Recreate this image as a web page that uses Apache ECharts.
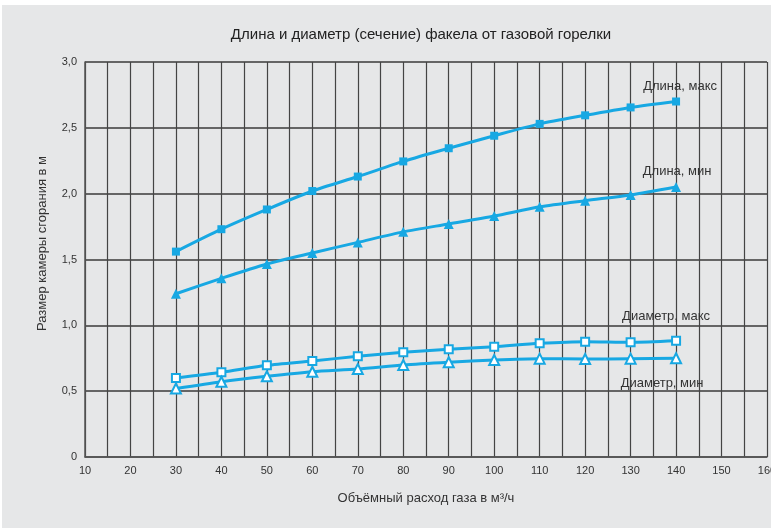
<!DOCTYPE html>
<html>
<head>
<meta charset="utf-8">
<script src="https://cdn.jsdelivr.net/npm/echarts@6/dist/echarts.min.js"></script>
<style>
  html, body { margin: 0; padding: 0; background: #fff; }
  #chart { width: 771px; height: 528px; }
</style>
</head>
<body>
<div id="chart"></div>
<script>
const xValues = [30, 40, 50, 60, 70, 80, 90, 100, 110, 120, 130, 140];
const lengthMax = [1.56, 1.73, 1.88, 2.02, 2.13, 2.245, 2.345, 2.44, 2.53, 2.595, 2.655, 2.70];
const lengthMin = [1.24, 1.357, 1.466, 1.55, 1.63, 1.71, 1.77, 1.83, 1.90, 1.947, 1.99, 2.05];
const diamMax = [0.60, 0.643, 0.696, 0.729, 0.765, 0.795, 0.818, 0.838, 0.863, 0.876, 0.871, 0.883];
const diamMin = [0.52, 0.572, 0.613, 0.648, 0.668, 0.699, 0.72, 0.737, 0.747, 0.744, 0.747, 0.75];
const seriesNames = ['Длина, макс', 'Длина, мин', 'Диаметр, макс', 'Диаметр, мин'];

const blue = '#17a8e3';
const textColor = '#333';
const font = 'Liberation Sans, Arial, sans-serif';

const chart = echarts.init(document.getElementById('chart'));

// метка у последней точки каждой кривой
function makeData(values, labelOpt) {
  return values.map((v, i) => {
    const item = { value: [xValues[i], v] };
    if (i === values.length - 1) {
      item.label = Object.assign({
        show: true,
        formatter: '{a}',
        color: textColor,
        fontSize: 13,
        fontFamily: font,
      }, labelOpt);
    }
    return item;
  });
}

function makeSeries(name, values, symbol, hollow, labelOpt) {
  return {
    name,
    type: 'line',
    smooth: 0.25,
    symbol,
    symbolSize: symbol === 'triangle' ? 10 : 8,
    lineStyle: { color: blue, width: 3 },
    itemStyle: hollow
      ? { color: '#fff', borderColor: blue, borderWidth: 2 }
      : { color: blue, borderColor: blue, borderWidth: 0 },
    emphasis: { disabled: true },
    data: makeData(values, labelOpt),
    z: 3,
  };
}

const option = {
  backgroundColor: '#fff',
  animation: false,
  textStyle: { fontFamily: font },
  graphic: [{
    type: 'rect',
    left: 2,
    top: 5,
    shape: { width: 769, height: 523 },
    style: { fill: '#e6e7e8' },
    z: -10,
    silent: true,
  }],
  title: {
    text: 'Длина и диаметр (сечение) факела от газовой горелки',
    left: 416,
    top: 22,
    textAlign: 'center',
    textStyle: {
      color: '#222',
      fontSize: 15,
      fontWeight: 'normal',
      fontFamily: font,
    },
  },
  grid: {
    left: 85,
    right: 4,
    top: 62,
    bottom: 71,
    outerBoundsMode: 'none',
  },
  xAxis: {
    type: 'value',
    min: 10,
    max: 160,
    interval: 10,
    name: 'Объёмный расход газа в м³/ч',
    nameLocation: 'middle',
    nameGap: 35,
    nameTextStyle: { color: textColor, fontSize: 13, fontFamily: font },
    axisLine: { show: true, lineStyle: { color: '#555', width: 1.5 } },
    axisTick: { show: false },
    axisLabel: { color: textColor, fontSize: 11, margin: 8 },
    splitLine: { show: true, lineStyle: { color: '#444', width: 1.2 } },
    minorTick: { show: false, splitNumber: 2 },
    minorSplitLine: { show: true, lineStyle: { color: '#444', width: 1.2 } },
  },
  yAxis: {
    type: 'value',
    min: 0,
    max: 3,
    interval: 0.5,
    name: 'Размер камеры сгорания в м',
    nameLocation: 'middle',
    nameGap: 36,
    nameTextStyle: { color: textColor, fontSize: 13, fontFamily: font, padding: [0, 0, 0, 32] },
    axisLine: { show: true, lineStyle: { color: '#555', width: 1.5 } },
    axisTick: { show: false },
    axisLabel: {
      color: textColor,
      fontSize: 11,
      margin: 8,
      formatter: (v) => (v === 0 ? '0' : v.toFixed(1).replace('.', ',')),
    },
    splitLine: { show: true, lineStyle: { color: '#3a3a3a', width: 1.5 } },
  },
  series: [
    makeSeries(seriesNames[0], lengthMax, 'rect', false, { position: 'top', offset: [4, 0] }),
    makeSeries(seriesNames[1], lengthMin, 'triangle', false, { position: 'top', offset: [1, 1] }),
    makeSeries(seriesNames[2], diamMax, 'rect', true, { position: 'top', offset: [-10, -8] }),
    makeSeries(seriesNames[3], diamMin, 'triangle', true, { position: 'bottom', offset: [-14, 8] }),
  ],
};

chart.setOption(option);
</script>
</body>
</html>
